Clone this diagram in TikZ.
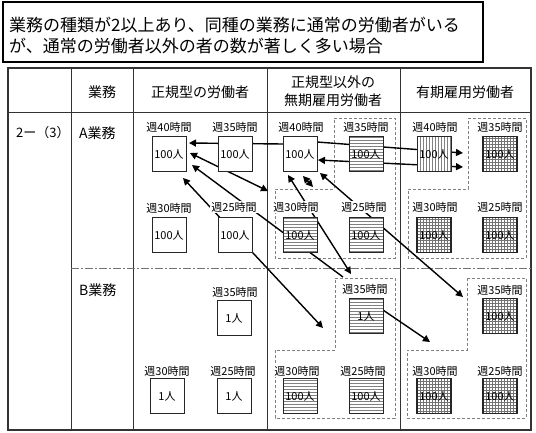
\documentclass[tikz,border=0pt]{standalone}
\usepackage{fontspec}
\setmainfont{Noto Sans CJK JP}
\usetikzlibrary{arrows.meta,patterns}
\tikzset{
  tbl/.style={line width=0.8pt, draw=black!80},
  boxbase/.style={draw=black!85, line width=0.8pt, minimum width=34pt, minimum height=35pt, inner sep=0pt, font=\fontsize{11}{11}\selectfont},
  wbox/.style={boxbase, fill=white},
  hbox/.style={boxbase, preaction={fill=white}, pattern=horizontal lines, pattern color=black!50},
  vbox/.style={boxbase, preaction={fill=white}, pattern=vertical lines, pattern color=black!50},
  gbox/.style={boxbase, line width=1.1pt, preaction={fill=white}, pattern=grid, pattern color=black!55},
  lbl/.style={fill=white, inner sep=1pt, font=\fontsize{11}{11}\selectfont},
  hdr/.style={font=\fontsize{14}{18}\selectfont, align=center},
  dreg/.style={draw=black!50, dash pattern=on 3pt off 2pt, line width=0.7pt},
  arr/.style={line width=1.4pt, -{Triangle[length=7pt,width=7pt]}},
  darr/.style={line width=1.4pt, {Triangle[length=7pt,width=7pt]}-{Triangle[length=7pt,width=7pt]}}
}
\begin{document}
\begin{tikzpicture}[x=1pt,y=-1pt]
\useasboundingbox (0,0) rectangle (536,432);
\fill[white] (0,0) rectangle (536,432);
% title
\draw[line width=1.5pt] (3,2) rectangle (483,62);
\node[anchor=west, inner sep=0pt, font=\fontsize{17}{17}\selectfont] (t1) at (9,25) {業務の種類が2以上あり、同種の業務に通常の労働者がいる};
\node[anchor=west, inner sep=0pt, font=\fontsize{17}{17}\selectfont] (t2) at (9,46) {が、通常の労働者以外の者の数が著しく多い場合};
% table
\draw[tbl, line width=1.2pt] (8,68) rectangle (531,430);
\draw[tbl] (71,68) -- (71,430) (133,68) -- (133,430) (267,68) -- (267,430) (400,68) -- (400,430);
\draw[tbl] (8,112) -- (531,112);
\draw[draw=black!55, line width=0.8pt, dash pattern=on 8pt off 2pt on 2pt off 2pt] (71,268) -- (531,268);
\node[hdr] (h1) at (102,92) {業務};
\node[hdr] (h2) at (200,92) {正規型の労働者};
\node[hdr] (h3) at (333,91) {正規型以外の\\無期雇用労働者};
\node[hdr] (h4) at (465,92) {有期雇用労働者};
\node[anchor=west, inner sep=0pt, font=\fontsize{13}{13}\selectfont] (r1) at (16,133) {2ー（3）};
\node[anchor=west, inner sep=0pt, font=\fontsize{14}{14}\selectfont] (ra) at (79,133) {A業務};
\node[anchor=west, inner sep=0pt, font=\fontsize{14}{14}\selectfont] (rb) at (79,290) {B業務};
% dashed regions
\draw[dreg] (334,118) -- (395,118) -- (395,258) -- (275,258) -- (275,189) -- (334,189) -- cycle;
\draw[dreg] (468,118) -- (526,118) -- (526,258) -- (408,258) -- (408,189) -- (468,189) -- cycle;
\draw[dreg] (335,278) -- (395,278) -- (395,418) -- (275,418) -- (275,350) -- (335,350) -- cycle;
\draw[dreg] (467,278) -- (526,278) -- (526,418) -- (407,418) -- (407,350) -- (467,350) -- cycle;
% arrow end points
\coordinate (a1s) at (283,144); \coordinate (a1e) at (189,143);
\coordinate (a2s) at (190,153); \coordinate (a2e) at (268,191);
\coordinate (a3s) at (343,277); \coordinate (a3e) at (192,165);
\coordinate (a4s) at (183,178); \coordinate (a4e) at (323,328);
\coordinate (a5s) at (288,175); \coordinate (a5e) at (351,274);
\coordinate (a6s) at (303,176); \coordinate (a6e) at (313,187);
\coordinate (a7s) at (320,173); \coordinate (a7e) at (463,297);
\coordinate (a8s) at (317,142); \coordinate (a8e) at (463,153);
\coordinate (a9s) at (318,160); \coordinate (a9e) at (463,167);
\coordinate (a10s) at (383,310); \coordinate (a10e) at (430,342);
\draw[arr] (a1s) -- (a1e);
\draw[darr] (a2s) -- (a2e);
\draw[arr] (a3s) -- (a3e);
\draw[darr] (a4s) -- (a4e);
\draw[darr] (a5s) -- (a5e);
\draw[darr] (a6s) -- (a6e);
\draw[darr] (a7s) -- (a7e);
\draw[arr] (a8s) -- (a8e);
\draw[darr] (a9s) -- (a9e);
\draw[arr] (a10s) -- (a10e);
% labels
\node[lbl] (l1a40) at (169,127) {週40時間};
\node[lbl] (l1a35) at (235,127) {週35時間};
\node[lbl] (l1a30) at (169,208) {週30時間};
\node[lbl] (l1a25) at (234,207) {週25時間};
\node[lbl] (l2a40) at (301,127) {週40時間};
\node[lbl] (l2a35) at (366,127) {週35時間};
\node[lbl] (l2a30) at (296,207) {週30時間};
\node[lbl] (l2a25) at (364,207) {週25時間};
\node[lbl] (l3a40) at (435,127) {週40時間};
\node[lbl] (l3a35) at (500,127) {週35時間};
\node[lbl] (l3a30) at (435,207) {週30時間};
\node[lbl] (l3a25) at (500,207) {週25時間};
\node[lbl] (l1b35) at (235,292) {週35時間};
\node[lbl] (l2b35) at (365,289) {週35時間};
\node[lbl] (l3b35) at (500,290) {週35時間};
\node[lbl] (l1b30) at (167,371) {週30時間};
\node[lbl] (l1b25) at (233,371) {週25時間};
\node[lbl] (l2b30) at (297,371) {週30時間};
\node[lbl] (l2b25) at (363,371) {週25時間};
\node[lbl] (l3b30) at (435,371) {週30時間};
\node[lbl] (l3b25) at (500,371) {週25時間};
% boxes
\node[wbox] (n1a40) at (169,154) {100人};
\node[wbox] (n1a35) at (235,154) {100人};
\node[wbox] (n1a30) at (169,235) {100人};
\node[wbox] (n1a25) at (235,235) {100人};
\node[wbox] (n1b35) at (234,318) {1人};
\node[wbox] (n1b30) at (167,396) {1人};
\node[wbox] (n1b25) at (234,396) {1人};
\node[wbox] (n2a40) at (300,154) {100人};
\node[hbox] (n2a35) at (366,154) {100人};
\node[hbox] (n2a30) at (300,235) {100人};
\node[hbox] (n2a25) at (366,235) {100人};
\node[hbox] (n2b35) at (366,316) {1人};
\node[hbox] (n2b30) at (300,396) {100人};
\node[hbox] (n2b25) at (366,396) {100人};
\node[vbox] (n3a40) at (434,154) {100人};
\node[gbox] (n3a35) at (500,154) {100人};
\node[gbox] (n3a30) at (434,235) {100人};
\node[gbox] (n3a25) at (500,235) {100人};
\node[gbox] (n3b35) at (500,316) {100人};
\node[gbox] (n3b30) at (434,396) {100人};
\node[gbox] (n3b25) at (500,396) {100人};
\end{tikzpicture}
\end{document}
